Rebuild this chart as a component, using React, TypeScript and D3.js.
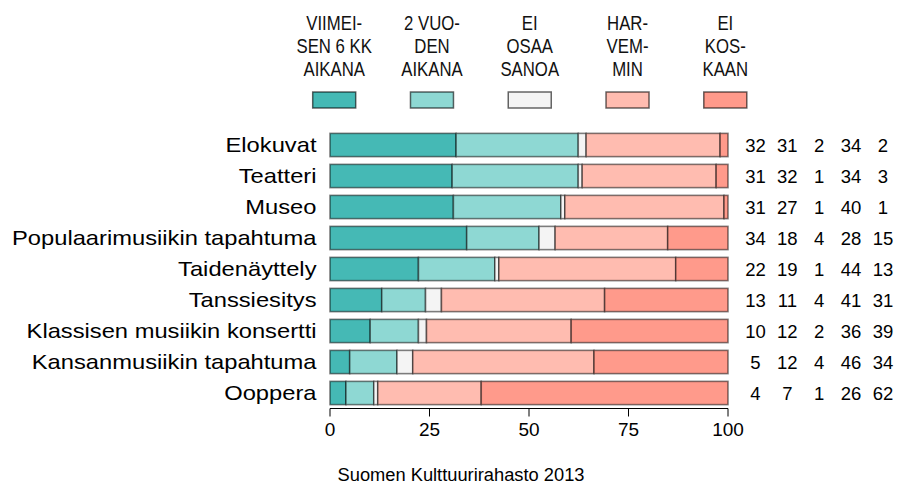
import React from "react";
import * as d3 from "d3";

const categories = [
  "Elokuvat",
  "Teatteri",
  "Museo",
  "Populaarimusiikin tapahtuma",
  "Taidenäyttely",
  "Tanssiesitys",
  "Klassisen musiikin konsertti",
  "Kansanmusiikin tapahtuma",
  "Ooppera",
];
const viimeisen6kk = [32, 31, 31, 34, 22, 13, 10, 5, 4];
const kahdenVuoden = [31, 32, 27, 18, 19, 11, 12, 12, 7];
const eiOsaaSanoa = [2, 1, 1, 4, 1, 4, 2, 4, 1];
const harvemmin = [34, 34, 40, 28, 44, 41, 36, 46, 26];
const eiKoskaan = [2, 3, 1, 15, 13, 31, 39, 34, 62];
const seriesLabels = [
  ["VIIMEI-", "SEN 6 KK", "AIKANA"],
  ["2 VUO-", "DEN", "AIKANA"],
  ["EI", "OSAA", "SANOA"],
  ["HAR-", "VEM-", "MIN"],
  ["EI", "KOS-", "KAAN"],
];
const colors = ["#45B9B5", "#8ED8D3", "#F4F4F4", "#FFBCB0", "#FF9A8B"];
const xTicks = [0, 25, 50, 75, 100];
const source = "Suomen Kulttuurirahasto 2013";

const W = 898;
const H = 484;
const FONT = "'Liberation Sans', Arial, Helvetica, sans-serif";

export default function App() {
  const series = [viimeisen6kk, kahdenVuoden, eiOsaaSanoa, harvemmin, eiKoskaan];
  const x = d3.scaleLinear().domain([0, 100]).range([330, 728]);
  const y = d3
    .scaleBand<string>()
    .domain(categories)
    .range([129.5, 408.5])
    .paddingInner(0.25)
    .paddingOuter(0.125);
  const bw = y.bandwidth();

  const rows = categories.map((c, i) => {
    const vals = series.map((s) => s[i]);
    const total = d3.sum(vals);
    let acc = 0;
    const segs = vals.map((v, k) => {
      const x0 = (acc / total) * 100;
      acc += v;
      const x1 = (acc / total) * 100;
      return { k, x0, x1, v };
    });
    return { c, segs };
  });

  const legendX = d3.scaleLinear().domain([0, 4]).range([334.2, 725.3]);
  const numX = d3.scaleLinear().domain([0, 4]).range([755.5, 883]);

  return (
    <svg
      width={W}
      height={H}
      style={{ position: "absolute", left: 0, top: 0, background: "#fff" }}
      fontFamily={FONT}
    >
      {/* legend */}
      {seriesLabels.map((lines, k) => (
        <g key={"lg" + k}>
          {lines.map((ln, j) => (
            <g key={j} transform={`translate(${legendX(k)},${29.5 + j * 23.3}) scale(0.86,1)`}>
              <text x={0} y={0} textAnchor="middle" fontSize={19.5} fill="#111">
                {ln}
              </text>
            </g>
          ))}
          <rect
            x={legendX(k) - 21.5}
            y={92}
            width={43}
            height={16}
            fill={colors[k]}
            stroke="rgba(0,0,0,0.6)"
            strokeWidth={1.5}
          />
        </g>
      ))}

      {/* bars */}
      {rows.map((r) => (
        <g key={r.c}>
          {r.segs.map((s) => (
            <rect
              key={s.k}
              x={x(s.x0)}
              y={y(r.c)!}
              width={x(s.x1) - x(s.x0)}
              height={bw}
              fill={colors[s.k]}
              stroke="rgba(0,0,0,0.5)"
              strokeWidth={1.6}
            />
          ))}
          <g transform={`translate(316.5,${y(r.c)! + bw / 2 + 7.3}) scale(1.13,1)`}>
            <text x={0} y={0} textAnchor="end" fontSize={21} fill="#000">
              {r.c}
            </text>
          </g>
          {r.segs.map((s) => (
            <text
              key={"n" + s.k}
              x={numX(s.k)}
              y={y(r.c)! + bw / 2 + 6.5}
              textAnchor="middle"
              fontSize={18.5}
              fill="#000"
            >
              {s.v}
            </text>
          ))}
        </g>
      ))}

      {/* axis */}
      <g>
        <line x1={x(0)} x2={x(100)} y1={408.5} y2={408.5} stroke="#000" strokeWidth={1} />
        {xTicks.map((t) => (
          <g key={t}>
            <line x1={x(t)} x2={x(t)} y1={408.5} y2={416.5} stroke="#000" strokeWidth={1} />
            <text x={x(t)} y={436} textAnchor="middle" fontSize={19} fill="#000">
              {t}
            </text>
          </g>
        ))}
      </g>

      <text x={461} y={481} textAnchor="middle" fontSize={18.3} fill="#000">
        {source}
      </text>
    </svg>
  );
}
